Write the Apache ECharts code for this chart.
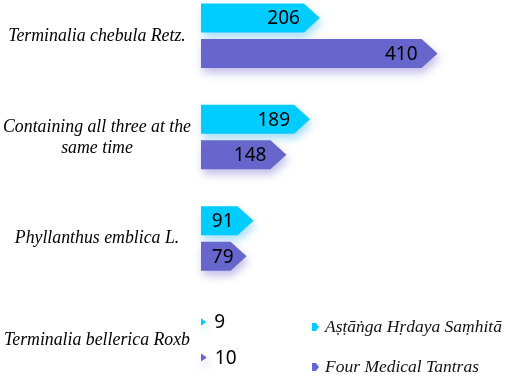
<!DOCTYPE html>
<html>
<head>
<meta charset="utf-8">
<script src="https://cdn.jsdelivr.net/npm/echarts@6/dist/echarts.min.js"></script>
<style>
  html, body { margin: 0; padding: 0; background: #fff; }
  #chart { width: 505px; height: 384px; }
</style>
</head>
<body>
<div id="chart"></div>
<script>
// categories, top to bottom
var categories = [
  "Terminalia chebula Retz.",
  "Containing all three at the\nsame time",
  "Phyllanthus emblica L.",
  "Terminalia bellerica Roxb"
];
var seriesNames = ["Aṣṭāṅga Hṛdaya Saṃhitā", "Four Medical Tantras"];
var ashtangaValues = [206, 189, 91, 9];
var tantrasValues = [410, 148, 79, 10];
var colors = ["#00ccff", "#6666cc"];

var BAR_H = 29;
var TIP = 16;

function makeRender(offset, shadow) {
  return function (params, api) {
    var v = api.value(0);
    var yi = api.value(1);
    var p0 = api.coord([0, yi]);
    var p1 = api.coord([v, yi]);
    var x0 = p0[0], x1 = p1[0], cy = p0[1] + offset;
    var len = x1 - x0;
    var h = BAR_H / 2;
    var pts;
    if (len > TIP + 4) {
      pts = [[x0, cy - h], [x1 - TIP, cy - h], [x1, cy], [x1 - TIP, cy + h], [x0, cy + h]];
    } else {
      // tiny values: just a small arrow head
      var th = len * 0.7;
      pts = [[x0, cy - th], [x1, cy], [x0, cy + th]];
    }
    var txt = String(v);
    var tw = txt.length * 10.3;
    var tx, align;
    if (len > 40) {
      tx = Math.max(x1 - 20, x0 + 12 + tw);
      align = "right";
    } else {
      tx = x1 + 8;
      align = "left";
    }
    return {
      type: "group",
      children: [
        {
          type: "polygon",
          shape: { points: pts },
          style: {
            fill: api.visual("color"),
            shadowBlur: 9,
            shadowOffsetX: 2,
            shadowOffsetY: 5,
            shadowColor: shadow
          }
        },
        {
          type: "text",
          x: tx,
          y: cy + 1,
          style: {
            text: txt,
            fill: "#000",
            align: align,
            verticalAlign: "middle",
            font: "19px 'Noto Sans', sans-serif"
          }
        }
      ]
    };
  };
}

function toData(vals) {
  return vals.map(function (v, i) { return [v, i]; });
}

var chart = echarts.init(document.getElementById("chart"));
var option = {
  backgroundColor: "#fff",
  animation: false,
  grid: { left: 201, top: 36, width: 288.5, height: 304, outerBoundsMode: "none" },
  xAxis: { type: "value", min: 0, max: 500, show: false },
  yAxis: {
    type: "category",
    data: categories,
    inverse: true,
    boundaryGap: false,
    axisLine: { show: false },
    axisTick: { show: false },
    splitLine: { show: false },
    axisLabel: {
      align: "center",
      margin: 104,
      color: "#000",
      fontFamily: "'Liberation Serif', serif",
      fontStyle: "italic",
      fontSize: 17.8,
      lineHeight: 21
    }
  },
  legend: {
    orient: "vertical",
    left: 312,
    top: 318,
    padding: 0,
    itemGap: 22,
    itemWidth: 7,
    itemHeight: 9,
    icon: "path://M0,0 L5,0 L9,5 L5,10 L0,10 Z",
    textStyle: {
      color: "#111",
      fontFamily: "'Liberation Serif', serif",
      fontStyle: "italic",
      fontSize: 17.5,
      padding: [0, 0, 0, 1]
    },
    data: seriesNames
  },
  series: [
    {
      name: seriesNames[0],
      type: "custom",
      itemStyle: { color: colors[0] },
      encode: { x: 0, y: 1 },
      renderItem: makeRender(-18, "rgba(0,160,230,0.35)"),
      data: toData(ashtangaValues)
    },
    {
      name: seriesNames[1],
      type: "custom",
      itemStyle: { color: colors[1] },
      encode: { x: 0, y: 1 },
      renderItem: makeRender(17.5, "rgba(80,70,190,0.35)"),
      data: toData(tantrasValues)
    }
  ]
};
chart.setOption(option);
</script>
</body>
</html>
